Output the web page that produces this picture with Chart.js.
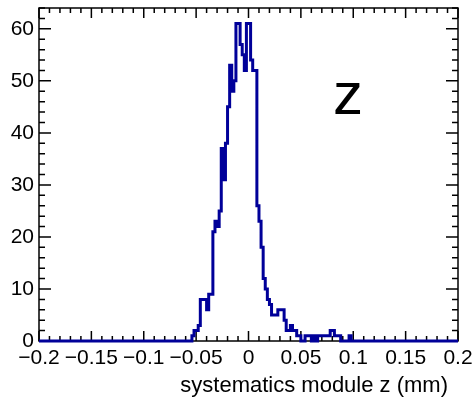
<!DOCTYPE html>
<html>
<head>
<meta charset="utf-8">
<script src="https://cdn.jsdelivr.net/npm/chart.js@4/dist/chart.umd.min.js"></script>
<style>
  html, body { margin: 0; padding: 0; background: #fff; }
  #wrap { width: 472px; height: 400px; }
</style>
</head>
<body>
<div id="wrap"><canvas id="histo" width="472" height="400"></canvas></div>
<script>
// histogram: 200 bins from -0.2 to 0.2 mm
const xMin = -0.2;
const xMax = 0.2;
const nBins = 200;
const counts = [
  0,0,0,0,0,0,0,0,0,0,0,0,0,0,0,0,0,0,0,0,
  0,0,0,0,0,0,0,0,0,0,0,0,0,0,0,0,0,0,0,0,
  0,0,0,0,0,0,0,0,0,0,0,0,0,0,0,0,0,0,0,0,
  0,0,0,0,0,0,0,0,0,0,0,0,0,1,2,2,3,8,8,8,
  6,9,9,21,23,22,25,37,31,38,45,53,48,50,61,61,57,55,52,61,
  61,54,52,52,26,23,18,12,10,8,7,5,5,5,6,6,6,4,2,2,
  3,2,2,1,1,0,0,1,1,1,0,1,0,1,1,1,1,1,1,2,
  2,1,1,1,0,0,0,0,1,0,0,0,0,0,0,0,0,0,0,0,
  0,0,0,0,0,0,0,0,0,0,0,0,0,0,0,0,0,0,0,0,
  0,0,0,0,0,0,0,0,0,0,0,0,0,0,0,0,0,0,0,0
];
const xTicks = [-0.2, -0.15, -0.1, -0.05, 0, 0.05, 0.1, 0.15, 0.2];
const xTickLabels = ["\u22120.2", "\u22120.15", "\u22120.1", "\u22120.05", "0", "0.05", "0.1", "0.15", "0.2"];
const yTicks = [0, 10, 20, 30, 40, 50, 60];
const yMax = 64;
const xTitle = "systematics module z (mm)";
const label = "z";

// step points at the low edge of each bin, plus the last upper edge
let binW = (xMax - xMin) / nBins;
let points = counts.map((c, i) => ({ x: xMin + i * binW, y: c }));
points.push({ x: xMax, y: counts[counts.length - 1] });

const font = "Liberation Sans, Arial, Helvetica, sans-serif";

const rootFrame = {
  id: "rootFrame",
  beforeDatasetsDraw(chart) {
    let ctx = chart.ctx;
    let a = chart.chartArea;
    let xs = chart.scales.x;
    let ys = chart.scales.y;
    ctx.save();
    ctx.strokeStyle = "#000";
    ctx.lineWidth = 1.5;
    ctx.strokeRect(a.left, a.top, a.right - a.left, a.bottom - a.top);

    ctx.beginPath();
    // x ticks every 0.01, major every 0.05 (bottom and top)
    for (let i = 0; i <= 40; i++) {
      let v = xMin + i * 0.01;
      let px = xs.getPixelForValue(v);
      let len = i % 5 === 0 ? 10 : 5;
      ctx.moveTo(px, a.bottom); ctx.lineTo(px, a.bottom - len);
      ctx.moveTo(px, a.top); ctx.lineTo(px, a.top + len);
    }
    // y ticks every 2, major every 10 (left and right)
    for (let v = 0; v <= yMax; v += 2) {
      let py = ys.getPixelForValue(v);
      let len = v % 10 === 0 ? 12 : 6;
      ctx.moveTo(a.left, py); ctx.lineTo(a.left + len, py);
      ctx.moveTo(a.right, py); ctx.lineTo(a.right - len, py);
    }
    ctx.stroke();

    ctx.fillStyle = "#000";
    ctx.font = "21px " + font;
    ctx.textAlign = "right";
    ctx.textBaseline = "middle";
    yTicks.forEach((v) => {
      ctx.fillText(String(v), a.left - 5, ys.getPixelForValue(v));
    });
    ctx.textAlign = "center";
    ctx.textBaseline = "top";
    xTicks.forEach((v, i) => {
      ctx.fillText(xTickLabels[i], xs.getPixelForValue(v), a.bottom + 7);
    });
    ctx.textAlign = "right";
    ctx.textBaseline = "alphabetic";
    ctx.font = "22px " + font;
    ctx.fillText(xTitle, 448, 392);

    ctx.textAlign = "left";
    ctx.font = "60px " + font;
    ctx.fillText(label, 333, 114);
    ctx.restore();
  }
};

new Chart(document.getElementById("histo").getContext("2d"), {
  type: "line",
  data: {
    datasets: [
      {
        data: points,
        stepped: true,
        borderColor: "#000099",
        borderWidth: 3,
        pointRadius: 0,
        fill: false,
        clip: 4,
      },
    ],
  },
  options: {
    responsive: false,
    animation: false,
    layout: { padding: { left: 39, right: 14, top: 8, bottom: 59 } },
    plugins: { legend: { display: false }, tooltip: { enabled: false } },
    scales: {
      x: { type: "linear", min: xMin, max: xMax, display: false },
      y: { min: 0, max: yMax, display: false },
    },
  },
  plugins: [rootFrame],
});
</script>
</body>
</html>
